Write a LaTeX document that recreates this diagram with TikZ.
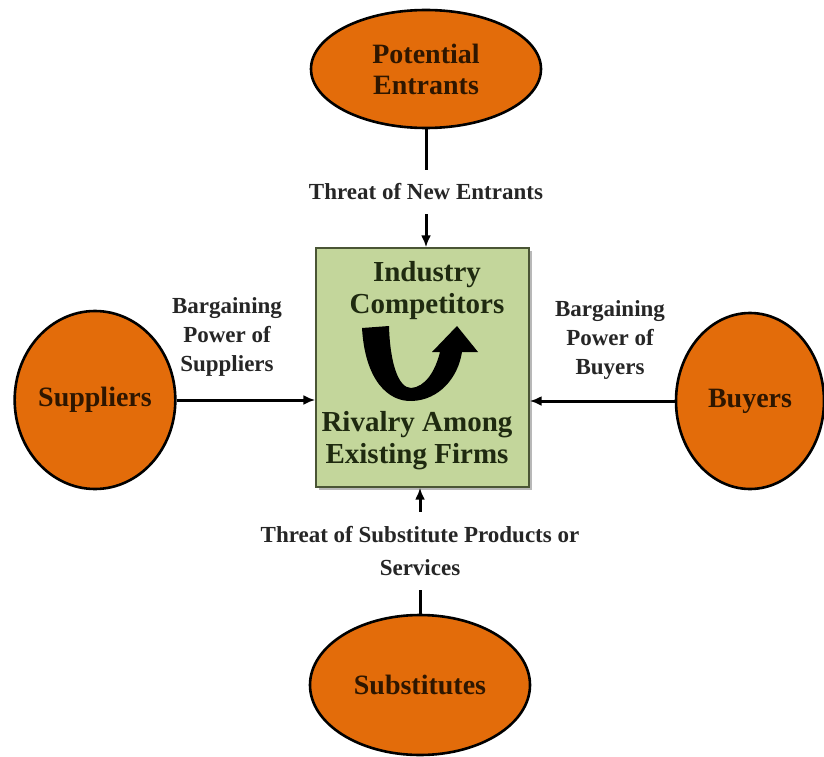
\documentclass[tikz,border=0pt]{standalone}
\usepackage{fontspec}
\setmainfont{Liberation Serif}
\usetikzlibrary{arrows.meta, positioning, shapes.geometric, shadows}

\definecolor{rustorange}{HTML}{E36C0A}
\definecolor{sagegreen}{HTML}{C3D69B}
\definecolor{boxedge}{HTML}{4A5535}
\definecolor{inkbrown}{HTML}{2E1600}
\definecolor{inkgreen}{HTML}{1F2A10}
\definecolor{labelgray}{HTML}{262626}

\begin{document}
\begin{tikzpicture}[
    x=1pt, y=-1pt,
    force/.style={draw, ellipse, fill=rustorange, line width=2.6pt, text=inkbrown,
        font=\fontsize{28}{31}\selectfont\bfseries, align=center, inner sep=0pt},
    firm/.style={draw=boxedge, fill=sagegreen, line width=1.4pt,
        drop shadow={shadow xshift=3pt, shadow yshift=-3pt, fill=black!55}},
    firmtext/.style={text=inkgreen, font=\fontsize{29}{32}\selectfont\bfseries, align=center},
    pressure/.style={text=labelgray, font=\fontsize{23}{29}\selectfont\bfseries,
        align=center, inner sep=14pt},
    link/.style={line width=3pt},
    push/.style={-{Latex[length=12pt, width=10pt]}, line width=3pt}
]
\fill[white] (0,0) rectangle (824,757);
\useasboundingbox (0,0) rectangle (824,757);

% the five forces
\node[force, minimum width=230pt, minimum height=118pt] (entrants) at (426,69) {Potential\\Entrants};
\node[force, minimum width=158pt, minimum height=178pt] (suppliers) at (95,400) {Suppliers};
\node[force, minimum width=148pt, minimum height=176pt] (buyers) at (750,401) {Buyers};
\node[force, minimum width=220pt, minimum height=140pt] (substitutes) at (420,685) {Substitutes};

% industry box in the middle
\node[firm, minimum width=213pt, minimum height=239pt] (rivalry) at (422.5,367.5) {};
\node[firmtext] (industry) at (427,291) {Industry\\Competitors};
\node[firmtext] (firms) at (417,441) {Rivalry Among\\Existing Firms};
\fill[black] (362,328) .. controls (365,380) and (388,402) .. (412,401)
    .. controls (439,400) and (458,378) .. (462,352) -- (478,352) -- (457,326)
    -- (432,352) -- (440,352) .. controls (435,372) and (425,387) .. (411,388)
    .. controls (398,388) and (390,362) .. (389,326) -- cycle;

% pressure labels
\node[pressure] (newthreat) at (426,192) {Threat of New Entrants};
\node[pressure, font=\fontsize{23}{33}\selectfont\bfseries, inner sep=14.5pt] (subthreat) at (420,551) {Threat of Substitute Products or\\Services};
\node[pressure] (supplypower) at (227,337) {Bargaining\\Power of\\Suppliers};
\node[pressure] (buypower) at (610,340) {Bargaining\\Power of\\Buyers};

% connectors
\draw[link] (entrants.south) -- (newthreat.north);
\draw[push] (newthreat.south) -- (newthreat.south |- rivalry.north);
\draw[link] (substitutes.north) -- (subthreat.south);
\draw[push] (subthreat.north) -- (subthreat.north |- rivalry.south);
\draw[push] (suppliers.east) -- (suppliers.east -| rivalry.west);
\draw[push] (buyers.west) -- (buyers.west -| rivalry.east);
\end{tikzpicture}
\end{document}
